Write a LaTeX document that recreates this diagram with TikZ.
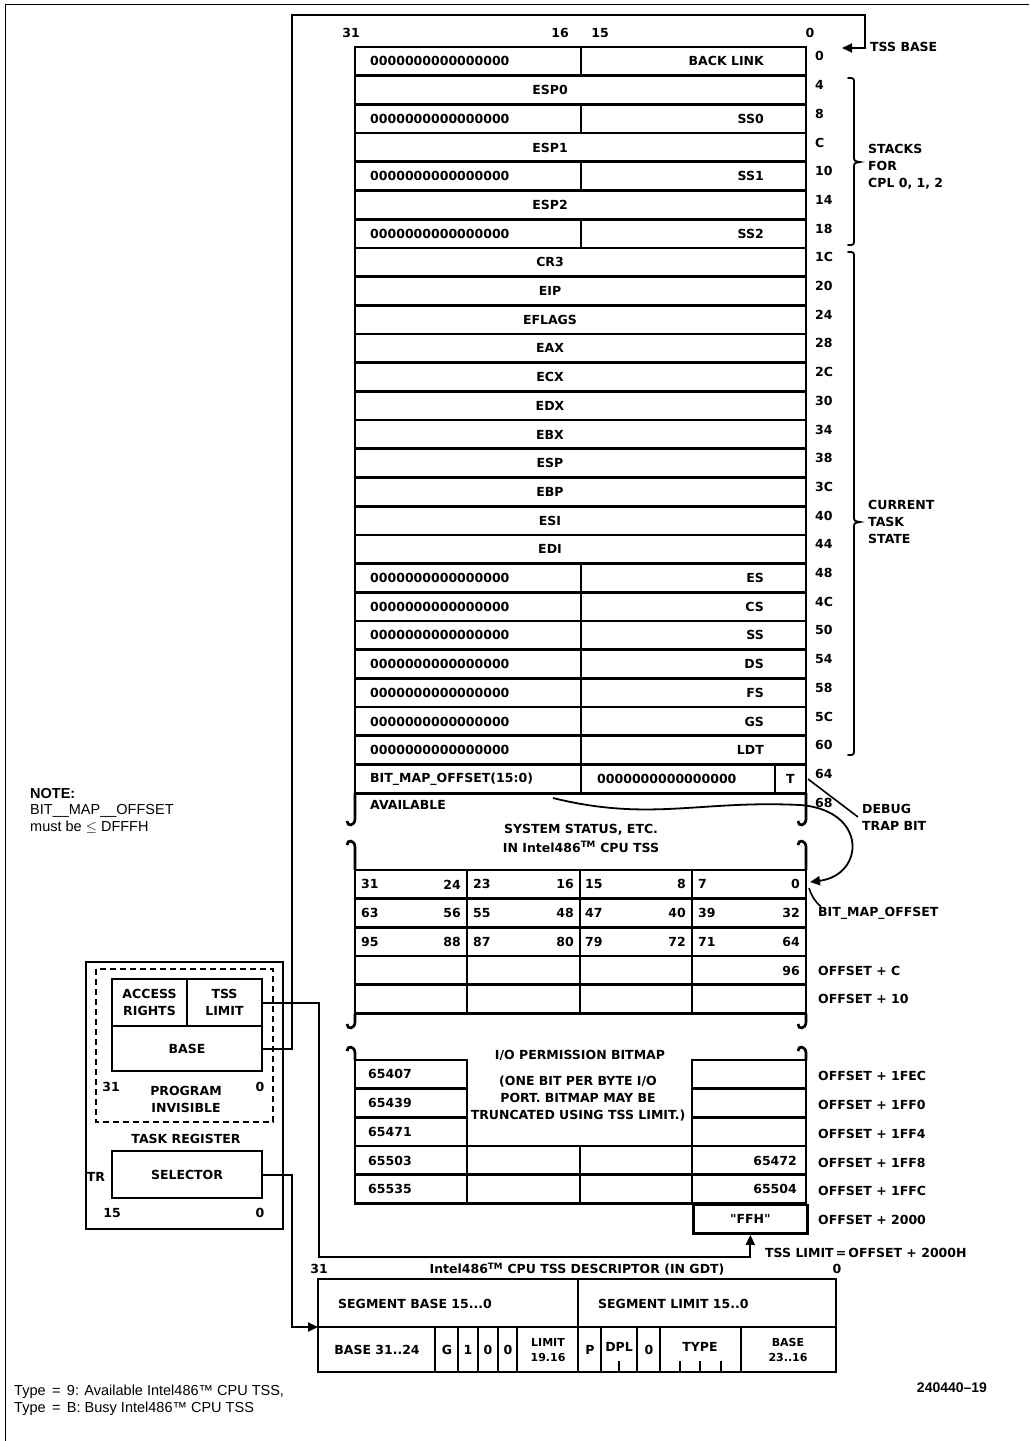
\documentclass[tikz,border=0pt]{standalone}
\usepackage{fontspec}
\setmainfont{DejaVu Sans}
\newfontfamily\notefont{Liberation Sans}
\newfontfamily\quotefont{DejaVu Sans}
\usetikzlibrary{arrows.meta}

\tikzset{
  tbl/.style={line width=2.7pt},
  wire/.style={line width=2pt},
  brace/.style={line width=1.8pt, line cap=round},
  lbl/.style={font=\fontsize{12.5}{17}\selectfont\bfseries, inner sep=0pt},
  regbox/.style={draw, line width=2.7pt, inner sep=0pt, align=center,
    font=\fontsize{12.5}{17}\selectfont\bfseries},
  note/.style={font=\notefont\fontsize{14.5}{16.5}\selectfont, inner sep=0pt, align=left},
  arr/.style={-{Triangle[length=10pt,width=9pt]}},
}

\begin{document}
\begin{tikzpicture}[x=1pt, y=-1pt]
  \useasboundingbox (0,0) rectangle (1029,1441);
  \def\rh{28.7}

  % Seitenrahmen
  \draw[line width=1pt] (5,1441) -- (5,4) -- (1029,4);

  % Bitnummern ueber dem TSS
  \node[lbl] (b31) at (351,33) {31};
  \node[lbl] (b16) at (560,33) {16};
  \node[lbl] (b15) at (600,33) {15};
  \node[lbl] (b0) at (810,33) {0};

  % TSS Zeilen
  \foreach \i in {0,...,25}
    \draw[tbl] (355,{47+\i*\rh}) rectangle (806,{47+(\i+1)*\rh});
  \foreach \i in {0,2,4,6,18,19,20,21,22,23,24,25}
    \draw[tbl] (581,{47+\i*\rh}) -- (581,{47+(\i+1)*\rh});
  \draw[tbl] (775,{47+25*\rh}) -- (775,{47+26*\rh});

  % Register ueber die volle Breite
  \foreach \i/\lab in {1/ESP0,3/ESP1,5/ESP2,7/CR3,8/EIP,9/EFLAGS,10/EAX,11/ECX,12/EDX,13/EBX,14/ESP,15/EBP,16/ESI,17/EDI}
    \node[lbl] (reg\i) at (550,{47+(\i+0.5)*\rh}) {\lab};

  % Selektoren mit Nullen
  \foreach \i/\lab in {0/BACK LINK,2/SS0,4/SS1,6/SS2,18/ES,19/CS,20/SS,21/DS,22/FS,23/GS,24/LDT}{
    \node[lbl, anchor=west] (zero\i) at (370,{47+(\i+0.5)*\rh}) {0000000000000000};
    \node[lbl, anchor=east] (sel\i) at (764,{47+(\i+0.5)*\rh}) {\lab};
  }
  \node[lbl, anchor=west] (bmo) at (370,{47+25.5*\rh}) {BIT\_MAP\_OFFSET(15:0)};
  \node[lbl, anchor=west] (zero25) at (597,{47+25.5*\rh}) {0000000000000000};
  \node[lbl] (tbit) at (790.5,{47+25.5*\rh}) {T};

  % Offsets rechts
  \foreach \lab [count=\i from 0] in {0,4,8,C,10,14,18,1C,20,24,28,2C,30,34,38,3C,40,44,48,4C,50,54,58,5C,60,64,68}
    \node[lbl, anchor=west] (off\i) at (815,{47+(\i+0.5)*\rh-5}) {\lab};

  % Klammern
  \draw[brace] (848,78) .. controls (854,78) .. (854,84) -- (854,156)
    .. controls (854,161) .. (860,162) .. controls (854,163) .. (854,168)
    -- (854,239) .. controls (854,245) .. (848,245);
  \node[lbl, anchor=west, align=left] (stacks) at (868,167) {STACKS\\FOR\\CPL 0, 1, 2};
  \draw[brace] (848,252) .. controls (854,252) .. (854,258) -- (854,516)
    .. controls (854,521) .. (860,522) .. controls (854,523) .. (854,528)
    -- (854,749) .. controls (854,755) .. (848,755);
  \node[lbl, anchor=west, align=left] (curtask) at (868,522) {CURRENT\\TASK\\STATE};

  % Bereich AVAILABLE mit Bruchstellen
  \foreach \x in {355,806}{
    \draw[tbl] (\x,{47+26*\rh}) -- (\x,819) .. controls (\x,826) and (\x-8,827) .. (\x-8,821);
    \draw[tbl] (\x,870) -- (\x,847) .. controls (\x,840) and (\x-8,839) .. (\x-8,845);
  }
  \node[lbl, anchor=west] (avail) at (370,805) {AVAILABLE};
  \node[lbl, align=center, font=\fontsize{12.5}{19}\selectfont\bfseries] (sysstat) at (581,838)
    {SYSTEM STATUS, ETC.\\IN Intel486\textsuperscript{TM} CPU TSS};

  % T-Bit und Zeiger auf die Bitmap
  \node[lbl, anchor=west, align=left] (dbg) at (862,817) {DEBUG\\TRAP BIT};
  \coordinate (tcell) at (808,779);
  \draw[line width=1.6pt] (tcell) -- ([xshift=-4pt]dbg.west);
  \coordinate (bmstart) at (553,798);
  \coordinate (bmrowa) at (810,882);
  \draw[line width=1.8pt, arr] (bmstart) .. controls (650,822) and (700,800) .. (800,805)
    .. controls (868,810) and (865,875) .. (bmrowa);

  % I/O Bitmap, obere Zeilen
  \foreach \k in {0,...,4}
    \draw[tbl] (355,{870+\k*\rh}) rectangle (806,{870+(\k+1)*\rh});
  \foreach \x in {467,580,692}
    \draw[tbl] (\x,870) -- (\x,{870+5*\rh});
  \foreach \k/\ua/\ub/\uc/\ud/\ue/\uf/\ug/\uh in {0/31/24/23/16/15/8/7/0,1/63/56/55/48/47/40/39/32,2/95/88/87/80/79/72/71/64}{
    \pgfmathsetmacro\yy{870+(\k+0.5)*\rh}
    \node[lbl, anchor=west] (bm\k-a) at (361,\yy) {\ua};
    \node[lbl, anchor=east] (bm\k-b) at (461,\yy) {\ub};
    \node[lbl, anchor=west] (bm\k-c) at (473,\yy) {\uc};
    \node[lbl, anchor=east] (bm\k-d) at (574,\yy) {\ud};
    \node[lbl, anchor=west] (bm\k-e) at (585,\yy) {\ue};
    \node[lbl, anchor=east] (bm\k-f) at (686,\yy) {\uf};
    \node[lbl, anchor=west] (bm\k-g) at (698,\yy) {\ug};
    \node[lbl, anchor=east] (bm\k-h) at (800,\yy) {\uh};
  }
  \node[lbl, anchor=east] (bm96) at (800,{870+3.5*\rh}) {96};
  \node[lbl, anchor=west] (bmolbl) at (818,913) {BIT\_MAP\_OFFSET};
  \coordinate (bmcorner) at (809,888);
  \draw[line width=1.6pt] ([xshift=3pt]bmolbl.north west) to[bend left=15] (bmcorner);
  \node[lbl, anchor=west] (offc) at (818,{870+3.5*\rh}) {OFFSET + C};
  \node[lbl, anchor=west] (off10) at (818,{870+4.5*\rh}) {OFFSET + 10};

  % zweite Bruchstelle
  \foreach \x in {355,806}{
    \draw[tbl] (\x,{870+5*\rh}) -- (\x,1022) .. controls (\x,1029) and (\x-8,1030) .. (\x-8,1024);
    \draw[tbl] (\x,1060) -- (\x,1053) .. controls (\x,1046) and (\x-8,1045) .. (\x-8,1051);
  }

  % I/O Bitmap, Ende
  \node[lbl] (iopb) at (580,1055) {I/O PERMISSION BITMAP};
  \node[lbl, align=center] (iopbnote) at (578,1099)
    {(ONE BIT PER BYTE I/O\\PORT. BITMAP MAY BE\\TRUNCATED USING TSS LIMIT.)};
  \foreach \lab [count=\k from 0] in {65407,65439,65471,65503,65535}{
    \draw[tbl] (355,{1060+\k*\rh}) rectangle (467,{1060+(\k+1)*\rh});
    \node[lbl, anchor=west] (lo\k) at (368,{1060+(\k+0.5)*\rh}) {\lab};
  }
  \foreach \k in {0,...,4}
    \draw[tbl] (692,{1060+\k*\rh}) rectangle (806,{1060+(\k+1)*\rh});
  \draw[tbl] (467,{1060+3*\rh}) rectangle (692,{1060+5*\rh});
  \draw[tbl] (467,{1060+4*\rh}) -- (692,{1060+4*\rh});
  \draw[tbl] (580,{1060+3*\rh}) -- (580,{1060+5*\rh});
  \node[lbl, anchor=east] (hi3) at (797,{1060+3.5*\rh}) {65472};
  \node[lbl, anchor=east] (hi4) at (797,{1060+4.5*\rh}) {65504};
  \node[regbox, minimum width=114pt, minimum height=28.7pt, anchor=north west] (ffh)
    at (692,{1060+5*\rh}) {\quotefont\bfseries "FFH"};
  \foreach \lab [count=\k from 0] in {OFFSET + 1FEC,OFFSET + 1FF0,OFFSET + 1FF4,OFFSET + 1FF8,OFFSET + 1FFC,OFFSET + 2000}
    \node[lbl, anchor=west] (offlo\k) at (818,{1060+(\k+0.5)*\rh+2}) {\lab};
  \node[lbl, anchor=west] (tsslimlbl) at (765,1253) {TSS LIMIT\,=\,OFFSET + 2000H};

  % Task Register
  \draw[tbl] (86,962) rectangle (283,1229);
  \draw[line width=2pt, dash pattern=on 6pt off 4pt] (96,969) rectangle (273,1122);
  \node[regbox, minimum width=75pt, minimum height=47pt] (acc) at (149.5,1002.5) {ACCESS\\RIGHTS};
  \node[regbox, minimum width=75pt, minimum height=47pt] (tsslim) at (224.5,1002.5) {TSS\\LIMIT};
  \node[regbox, minimum width=150pt, minimum height=45pt] (base) at (187,1048.5) {BASE};
  \node[lbl] (tr31) at (111,1087) {31};
  \node[lbl] (tr0) at (260,1087) {0};
  \node[lbl, align=center] (invis) at (186,1099) {PROGRAM\\INVISIBLE};
  \node[lbl] (taskreg) at (186,1139) {TASK REGISTER};
  \node[regbox, minimum width=150pt, minimum height=47pt] (selector) at (187,1174.5) {SELECTOR};
  \node[lbl] (trname) at (96,1177) {TR};
  \node[lbl] (tr15) at (112,1213) {15};
  \node[lbl] (trz) at (260,1213) {0};

  % Verbindungen
  \coordinate (tssb) at (842,48);
  \node[lbl, anchor=west] (tssbase) at (870,47) {TSS BASE};
  \draw[wire, arr] (base.east) -| (292,15) -| (865,48) -- (tssb);
  \draw[wire, arr] (tsslim.east) -| (319,1257) -| (ffh.south);
  \coordinate (descin) at (318,1327);
  \draw[wire, arr] (selector.east) -| (292,1327) -- (descin);

  % TSS Deskriptor
  \node[lbl] (d31) at (319,1269) {31};
  \node[lbl] (dtitle) at (577,1269) {Intel486\textsuperscript{TM} CPU TSS DESCRIPTOR (IN GDT)};
  \node[lbl] (d0) at (837,1269) {0};
  \draw[tbl] (318,1279) rectangle (836,1372);
  \draw[tbl] (318,1327) -- (836,1327);
  \draw[tbl] (578,1279) -- (578,1327);
  \foreach \x in {435,458,478,498,517,578,601,637,660,741}
    \draw[tbl] (\x,1327) -- (\x,1372);
  \foreach \x in {619,680,700,721}
    \draw[tbl] (\x,1372) -- (\x,1361);
  \node[lbl, anchor=west] (segbase) at (338,1304) {SEGMENT BASE 15...0};
  \node[lbl, anchor=west] (seglim) at (598,1304) {SEGMENT LIMIT 15..0};
  \node[lbl] (base3124) at (377,1350) {BASE 31..24};
  \node[lbl] (gbit) at (447,1350) {G};
  \node[lbl] (onebit) at (468,1350) {1};
  \node[lbl] (zbita) at (488,1350) {0};
  \node[lbl] (zbitb) at (508,1350) {0};
  \node[lbl, align=center, font=\fontsize{11}{15}\selectfont\bfseries] (lim1916) at (548,1350) {LIMIT\\19.16};
  \node[lbl] (pbit) at (590,1350) {P};
  \node[lbl] (dpl) at (619,1347) {DPL};
  \node[lbl] (zbitc) at (649,1350) {0};
  \node[lbl] (type) at (700,1347) {TYPE};
  \node[lbl, align=center, font=\fontsize{11}{15}\selectfont\bfseries] (base2316) at (788,1350) {BASE\\23..16};

  % Anmerkungen
  \node[note, anchor=north west] (note) at (30,788)
    {\textbf{NOTE:}\\BIT\_\_MAP\_\_OFFSET\\must be $\leq$ DFFFH};
  \node[note, anchor=north west] (types) at (14,1385)
    {Type \,=\, 9: Available Intel486™ CPU TSS,\\Type \,=\, B: Busy Intel486™ CPU TSS};
  \node[note, font=\notefont\bfseries\fontsize{14}{16}\selectfont] (figno) at (952,1388) {240440–19};
\end{tikzpicture}
\end{document}
